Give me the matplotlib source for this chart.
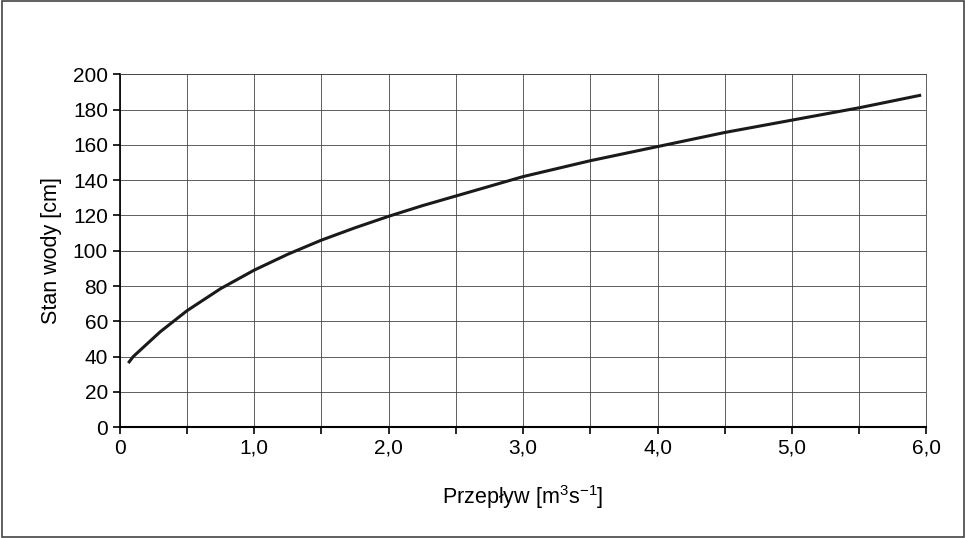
import matplotlib
matplotlib.use("Agg")
import matplotlib.pyplot as plt
from matplotlib.patches import Rectangle

plt.rcParams['font.family'] = ['Liberation Sans', 'DejaVu Sans']
plt.rcParams['mathtext.fontset'] = 'custom'
plt.rcParams['mathtext.rm'] = 'Liberation Sans'
plt.rcParams['mathtext.it'] = 'Liberation Sans'

flow = [0.07, 0.1, 0.15, 0.2, 0.3, 0.4, 0.5, 0.75, 1.0, 1.25, 1.5, 1.75, 2.0, 2.25, 2.5,
        2.75, 3.0, 3.25, 3.5, 3.75, 4.0, 4.5, 5.0, 5.5, 5.95]
stage = [37, 40, 43.5, 47, 54, 60, 66, 78.5, 89, 98, 106, 113, 119.5, 125.5, 131,
         136.5, 142, 146.5, 151, 155, 159, 167, 174, 181, 188]
xticks = [0, 1, 2, 3, 4, 5, 6]
xticklabels = ["0", "1,0", "2,0", "3,0", "4,0", "5,0", "6,0"]

fig = plt.figure(figsize=(9.66, 5.38), dpi=100)
fig.patches.append(Rectangle((0.002, 0.002), 0.996, 0.996, transform=fig.transFigure,
                             fill=False, edgecolor='#444444', linewidth=1.2))
ax = fig.add_axes([0.124, 0.206, 0.835, 0.656])
ax.plot(flow, stage, color='#1a1a1a', linewidth=2.2)
ax.set_xlim(0, 6)
ax.set_ylim(0, 200)
ax.set_xticks([i * 0.5 for i in range(13)], minor=True)
ax.set_xticks(xticks)
ax.set_xticklabels(xticklabels)
ax.set_yticks(range(0, 201, 20))
ax.grid(True, which='both', color='#444444', linewidth=0.6)
ax.tick_params(which='both', direction='out', length=5, width=1.2, labelsize=15)
for s in ax.spines.values():
    s.set_linewidth(0.6)
    s.set_color('#444444')
ax.spines['bottom'].set_linewidth(1.5)
ax.spines['bottom'].set_color('black')
ax.spines['left'].set_linewidth(1.2)
ax.spines['left'].set_color('black')
ax.set_xlabel("Przepływ [m$^3$s$^{\\mathrm{-}1}$]", fontsize=15.5, labelpad=18)
ax.set_ylabel("Stan wody [cm]", fontsize=15.5, labelpad=8)
fig.savefig("out.png", dpi=100)
